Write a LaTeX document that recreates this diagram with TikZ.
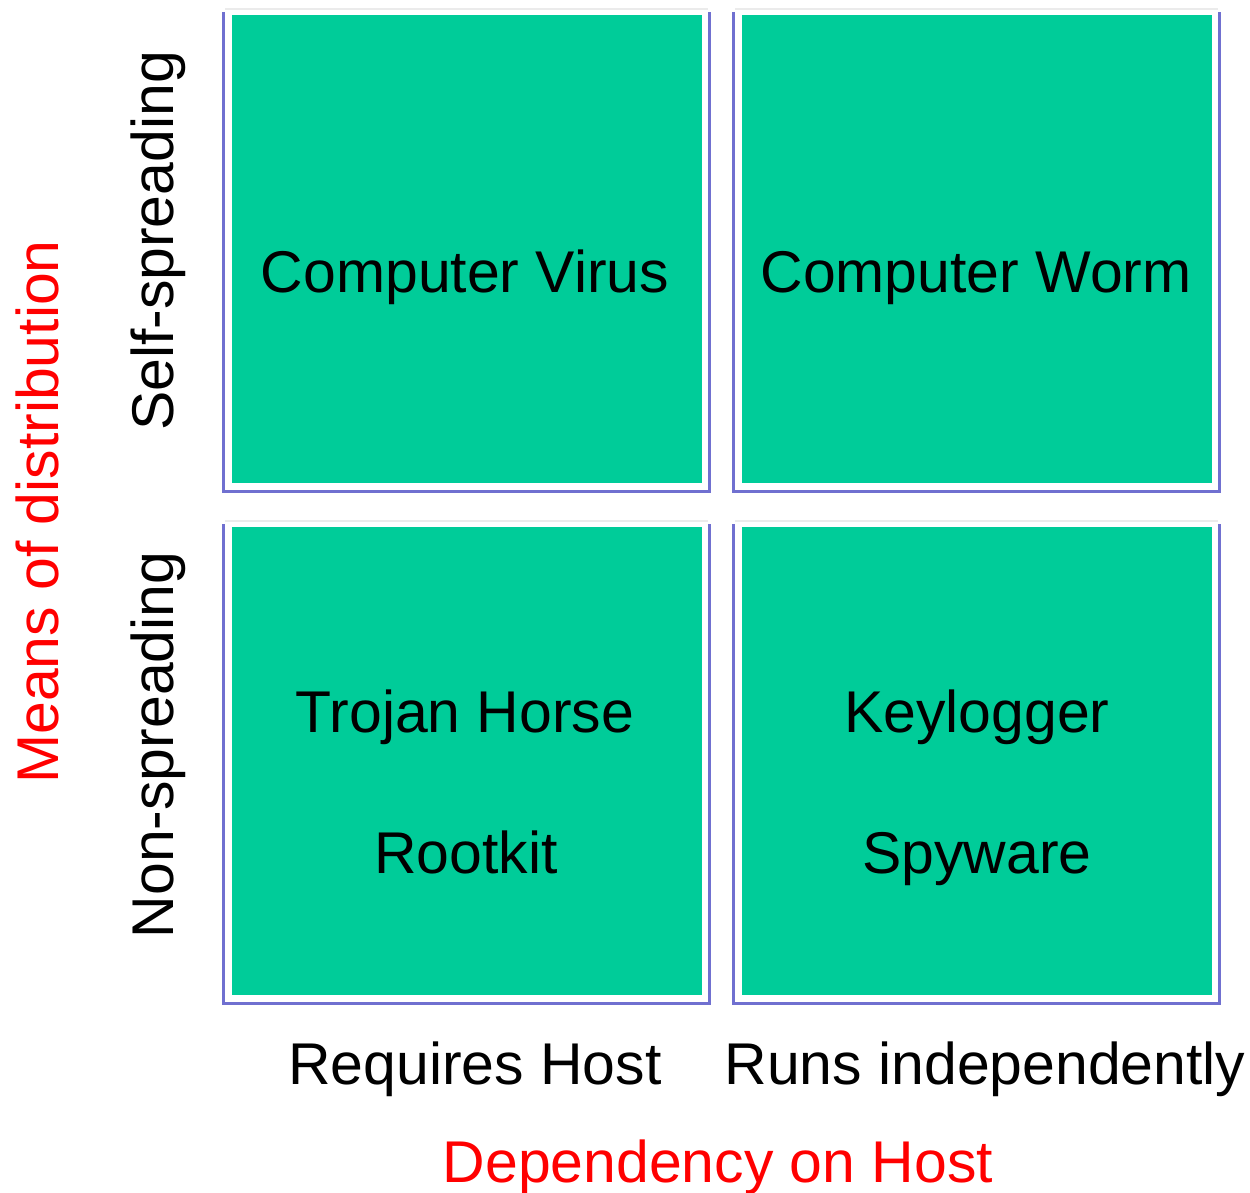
\documentclass[tikz,border=0pt]{standalone}
\usepackage{fontspec}
\setmainfont{Liberation Sans}
\definecolor{cellgreen}{RGB}{0,204,153}
\definecolor{frameblue}{RGB}{112,112,208}
\definecolor{axisred}{RGB}{255,0,0}
% one quadrant: blue frame, white mat, green cell (#2,#3 = top left of green)
\newcommand{\quadrant}[3]{%
  \fill[frameblue] (#2-10,#3-3) rectangle (#2+479,#3+478);
  \fill[white] (#2-7,#3-6) rectangle (#2+476,#3+475);
  \draw[black!8] (#2-7,#3-6) -- (#2+476,#3-6);
  \node[cell] (#1) at (#2+235,#3+234) {};
}

\begin{document}
\begin{tikzpicture}[x=0.01cm,y=-0.01cm,
    cell/.style={fill=cellgreen, minimum width=4.7cm, minimum height=4.68cm, inner sep=0pt},
    lbl/.style={anchor=base, inner sep=0pt, font=\fontsize{16.75}{20}\selectfont},
    axis/.style={lbl, text=axisred}]
  \useasboundingbox (0,0) rectangle (1250,1193);
  \quadrant{Q11}{232}{15}
  \quadrant{Q12}{742}{15}
  \quadrant{Q21}{232}{527}
  \quadrant{Q22}{742}{527}
  % cell contents
  \node[lbl] (virus)  at (465,292) {Computer Virus};
  \node[lbl] (worm)   at (976,292) {Computer Worm};
  \node[lbl] (trojan) at (465,732) {Trojan Horse};
  \node[lbl] (root)   at (466,873) {Rootkit};
  \node[lbl] (keylog) at (977,732) {Keylogger};
  \node[lbl] (spy)    at (977,873) {Spyware};
  % row and column headings
  \node[lbl, rotate=90] (self) at (173,241) {Self-spreading};
  \node[lbl, rotate=90] (non)  at (173,745) {Non-spreading};
  \node[lbl] (host) at (475,1084) {Requires Host};
  \node[lbl] (indep) at (985,1084) {Runs independently};
  % axes
  \node[axis, rotate=90] (means) at (58,512) {Means of distribution};
  \node[axis] (dep) at (718,1182) {Dependency on Host};
\end{tikzpicture}
\end{document}
